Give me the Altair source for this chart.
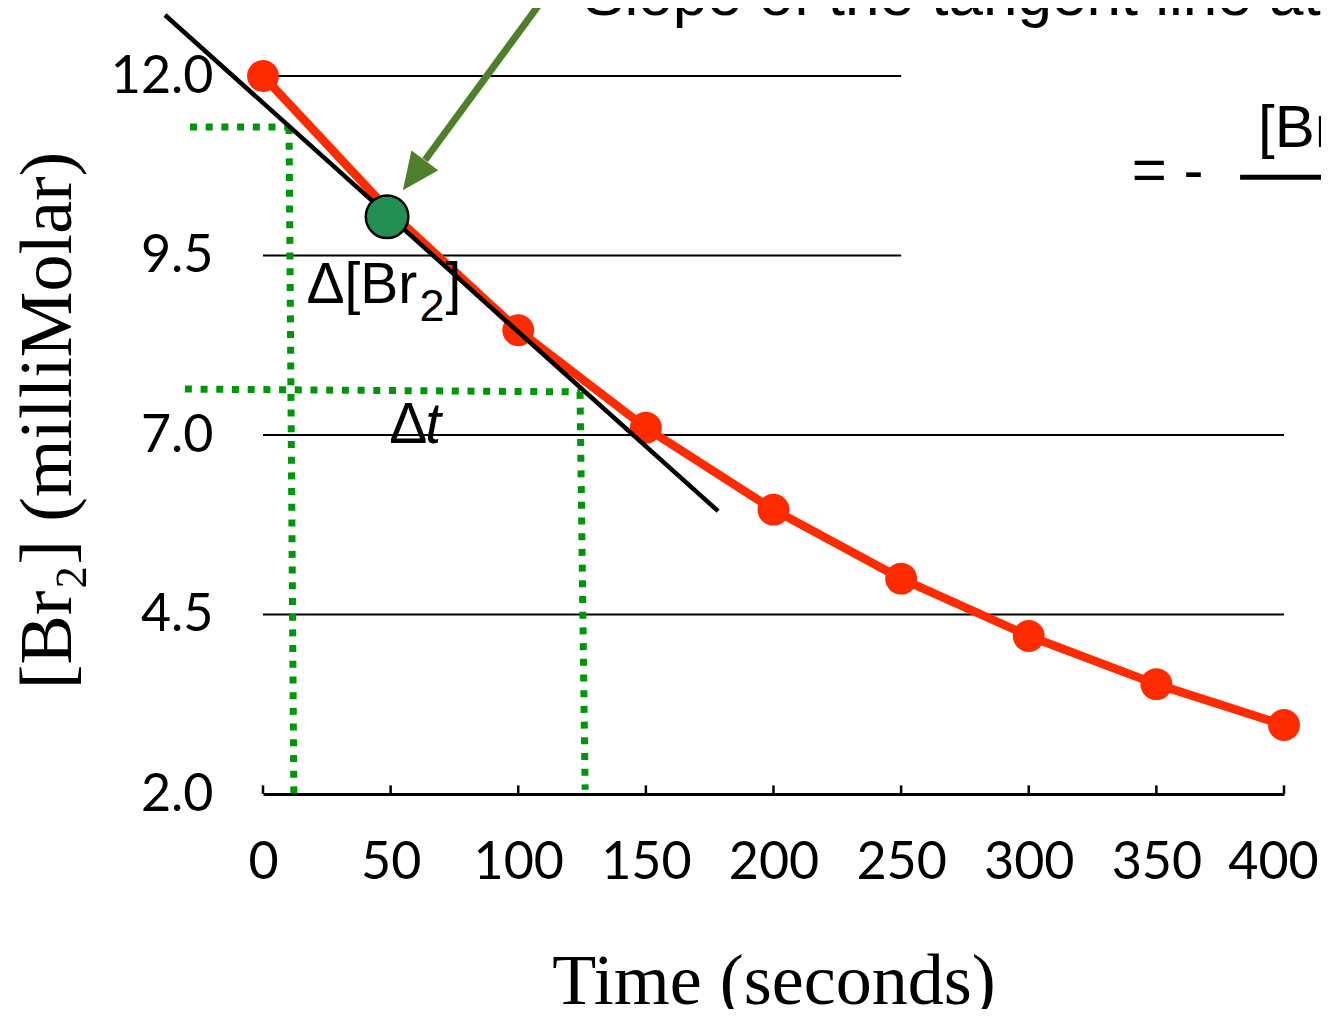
import altair as alt
import pandas as pd

# ---- data ----
time_s = [0, 50, 100, 150, 200, 250, 300, 350, 400]
br2_mM = [12.0, 10.1, 8.46, 7.10, 5.96, 5.00, 4.20, 3.53, 2.96]

x_ticks = [0, 50, 100, 150, 200, 250, 300, 350, 400]
y_ticks = [2.0, 4.5, 7.0, 9.5, 12.0]

grid_y = [12.0, 9.5, 7.0, 4.5]
grid_x_end = [250, 250, 400, 400]

tangent_t = [-38.4, 178.3]
tangent_c = [12.85, 5.94]

tan_point_t = [48.6]
tan_point_c = [10.04]

dot_x1 = [-28.6, 10.2, -30.6, 124.2]
dot_y1 = [11.29, 11.29, 7.64, 7.60]
dot_x2 = [10.4, 12.1, 124.2, 126.2]
dot_y2 = [11.29, 1.92, 7.60, 2.06]

arrow_t = [112.4, 63.5]
arrow_c = [13.2, 10.83]
arrow_tip_t = [54.8]
arrow_tip_c = [10.41]

frac_x = [382.8]
frac_x2 = [425.0]
frac_y = [10.59]

X_TITLE = "Time (seconds)"
Y_TITLE = "[Br₂] (milliMolar)"

# ---- scales / axes ----
xs = alt.Scale(domain=[0, 400], nice=False, zero=False)
ys = alt.Scale(domain=[2, 12], nice=False, zero=False)

x_axis = alt.Axis(
    values=x_ticks, ticks=False, tickSize=0, grid=False, domain=True,
    domainColor="black", domainWidth=3,
    labelFont="Lato", labelFontSize=52, labelColor="black",
    labelPadding=84, labelBaseline="alphabetic", labelFlush=False, labelOverlap=False,
    labelOffset={"condition": {"test": "datum.value == 400", "value": -11}, "value": 0},
    titleFont="Liberation Serif", titleFontSize=72, titleFontWeight="normal",
    titleColor="black", titleBaseline="alphabetic", titleY=209,
)
y_axis = alt.Axis(
    values=y_ticks, format=".1f", ticks=False, tickSize=0, grid=False, domain=False,
    labelFont="Lato", labelFontSize=52, labelColor="black",
    labelPadding=50, labelFlush=False, labelOverlap=False,
    titleFont="Liberation Serif", titleFontSize=74, titleFontWeight="normal",
    titleColor="black", titleAngle=270, titleAlign="center",
    titleBaseline="alphabetic", titleX=-193, titleY=344,
)


def X(f):
    return alt.X(f, type="quantitative", scale=xs, axis=x_axis, title=X_TITLE)


def Y(f):
    return alt.Y(f, type="quantitative", scale=ys, axis=y_axis, title=Y_TITLE)


df_curve = pd.DataFrame({"t": time_s, "c": br2_mM})
df_grid = pd.DataFrame({"y": grid_y, "x0": [0] * len(grid_y), "x1": grid_x_end})
df_ticks = pd.DataFrame({"t": x_ticks, "y0": [2.0] * len(x_ticks), "y1": [2.12] * len(x_ticks)})
df_tan = pd.DataFrame({"t": tangent_t, "c": tangent_c})
df_tp = pd.DataFrame({"t": tan_point_t, "c": tan_point_c})
df_dot = pd.DataFrame({"x1": dot_x1, "y1": dot_y1, "x2": dot_x2, "y2": dot_y2})
df_arrow = pd.DataFrame({"t": arrow_t, "c": arrow_c, "o": [0, 1]})
df_tip = pd.DataFrame({"t": arrow_tip_t, "c": arrow_tip_c})
df_frac = pd.DataFrame({"x": frac_x, "x2": frac_x2, "y": frac_y})

grid = alt.Chart(df_grid).mark_rule(color="black", strokeWidth=2).encode(
    x=X("x0"), x2="x1", y=Y("y"))

ticks = alt.Chart(df_ticks).mark_rule(color="black", strokeWidth=2.5).encode(
    x=X("t"), y=Y("y0"), y2="y1")

dotted = alt.Chart(df_dot).mark_rule(
    color="#00960a", strokeWidth=7, strokeDash=[7, 8.7], strokeCap="butt"
).encode(x=X("x1"), y=Y("y1"), x2="x2", y2="y2")

red_line = alt.Chart(df_curve).mark_line(color="#ff2b00", strokeWidth=8.5).encode(
    x=X("t"), y=Y("c"))
red_pts = alt.Chart(df_curve).mark_circle(color="#ff2b00", size=1018, opacity=1).encode(
    x=X("t"), y=Y("c"))

tangent = alt.Chart(df_tan).mark_line(color="black", strokeWidth=4.5).encode(
    x=X("t"), y=Y("c"))

tan_pt = alt.Chart(df_tp).mark_point(
    shape="circle", filled=True, fill="#248f52", stroke="black", strokeWidth=2.5,
    size=1810, opacity=1, fillOpacity=1
).encode(x=X("t"), y=Y("c"))

arrow_line = alt.Chart(df_arrow).mark_line(color="#4e7f2a", strokeWidth=7).encode(
    x=X("t"), y=Y("c"), order="o:Q")
arrow_head = alt.Chart(df_tip).mark_point(
    shape="M0,0L-0.45,-1L0.45,-1Z", filled=True, color="#4e7f2a", size=5476,
    angle=36.4, opacity=1
).encode(x=X("t"), y=Y("c"))

frac = alt.Chart(df_frac).mark_rule(color="black", strokeWidth=5).encode(
    x=X("x"), x2="x2", y=Y("y"))


def label(text, t, c, size=56, dx=0, dy=0, style="normal"):
    d = pd.DataFrame({"t": [t], "c": [c], "s": [text]})
    return alt.Chart(d).mark_text(
        font="Liberation Sans", fontSize=size, fontStyle=style, color="black",
        align="left", baseline="alphabetic", dx=dx, dy=dy
    ).encode(x=X("t"), y=Y("c"), text="s:N")


texts = [
    label("Slope of the tangent line at", 125.4, 12.85, size=62),
    label("[Br", 389.8, 11.01, size=60),
    label("= -", 340.4, 10.41, size=60),
    label("Δ[Br", 17.0, 8.84, size=57),
    label("2", 17.0, 8.84, size=45, dx=113, dy=18),
    label("]", 17.0, 8.84, size=57, dx=139),
    label("Δ", 49.5, 6.89, size=57),
    label("t", 49.5, 6.89, size=57, dx=36, style="italic"),
]

chart = alt.layer(
    grid, dotted, red_line, red_pts, tangent, tan_pt, arrow_line, arrow_head, frac,
    ticks, *texts
).properties(
    width=1021, height=718,
    autosize=alt.AutoSizeParams(type="none"),
    padding={"left": 255, "top": 68, "right": 37, "bottom": 215},
    background="white",
).configure_view(stroke=None)

chart.save("out.html", embed_options={"renderer": "svg", "actions": False})
